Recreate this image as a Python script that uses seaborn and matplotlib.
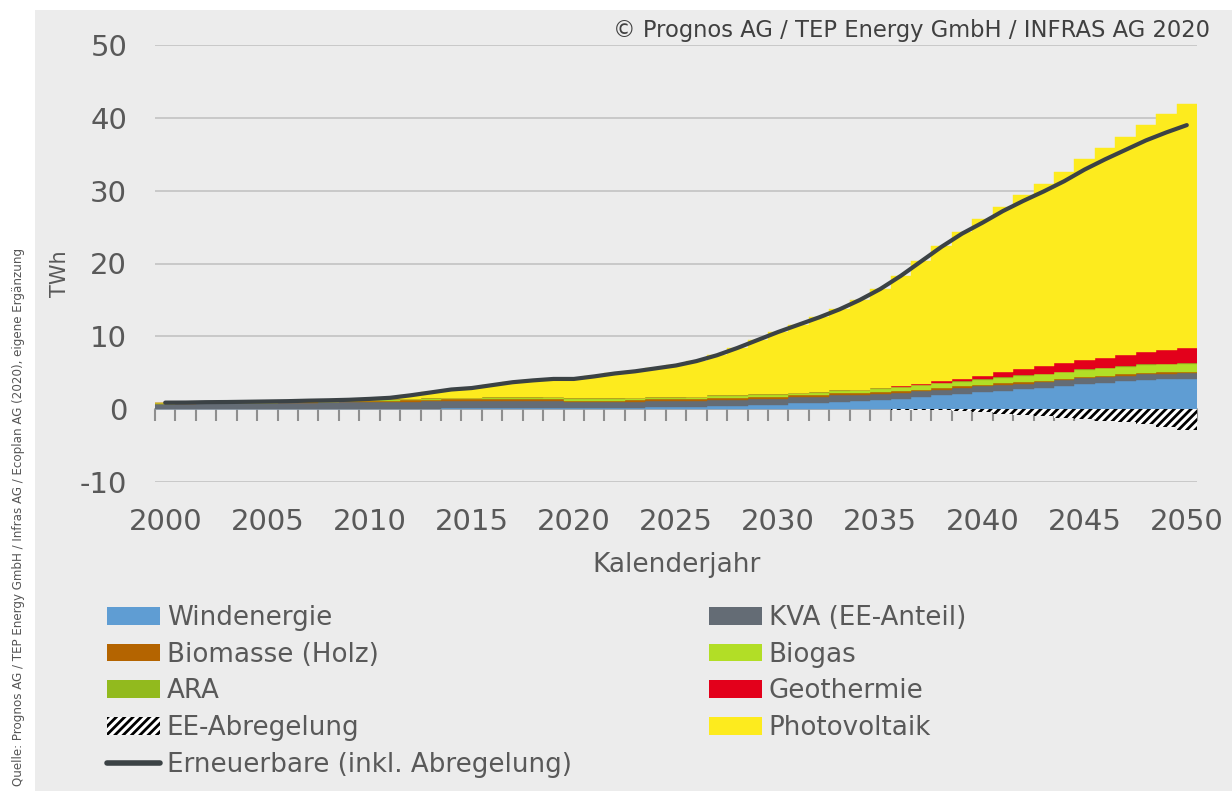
import numpy as np
import pandas as pd
import matplotlib
matplotlib.use("Agg")
import matplotlib.pyplot as plt
from matplotlib.patches import Rectangle, Patch
from matplotlib.lines import Line2D
import seaborn as sns

# ---- data (TWh per calendar year) ----
years = list(range(2000, 2051))

windenergie = [
    0.00, 0.00, 0.00, 0.00, 0.00, 0.01, 0.01, 0.02, 0.02, 0.02,
    0.04, 0.07, 0.09, 0.09, 0.10, 0.11, 0.11, 0.13, 0.12, 0.15,
    0.15, 0.15, 0.15, 0.20, 0.30, 0.30, 0.30, 0.45, 0.45, 0.62,
    0.62, 0.85, 0.90, 1.05, 1.10, 1.25, 1.45, 1.65, 1.90, 2.10,
    2.35, 2.55, 2.75, 2.95, 3.20, 3.50, 3.65, 3.85, 4.05, 4.12, 4.20]
kva = [
    0.75, 0.76, 0.78, 0.80, 0.82, 0.84, 0.86, 0.88, 0.90, 0.92,
    0.94, 0.95, 0.96, 0.97, 0.98, 0.98, 0.98, 0.98, 0.98, 0.98,
    0.85, 0.85, 0.85, 0.85, 0.82, 0.82, 0.82, 0.85, 0.85, 0.83,
    0.83, 0.78, 0.78, 0.85, 0.85, 0.82, 0.80, 0.80, 0.80, 0.78,
    0.78, 0.78, 0.76, 0.76, 0.75, 0.75, 0.74, 0.74, 0.72, 0.72, 0.70]
biomasse = [
    0.02, 0.02, 0.03, 0.03, 0.04, 0.05, 0.06, 0.08, 0.10, 0.12,
    0.14, 0.16, 0.18, 0.22, 0.25, 0.26, 0.27, 0.28, 0.28, 0.28,
    0.18, 0.18, 0.18, 0.20, 0.24, 0.24, 0.24, 0.24, 0.24, 0.25,
    0.25, 0.25, 0.25, 0.26, 0.26, 0.26, 0.25, 0.25, 0.25, 0.24,
    0.24, 0.23, 0.23, 0.22, 0.22, 0.22, 0.21, 0.21, 0.20, 0.20, 0.20]
biogas = [
    0.05, 0.05, 0.06, 0.06, 0.07, 0.07, 0.08, 0.09, 0.10, 0.11,
    0.12, 0.13, 0.14, 0.15, 0.16, 0.17, 0.18, 0.19, 0.20, 0.21,
    0.22, 0.22, 0.23, 0.23, 0.24, 0.24, 0.25, 0.26, 0.27, 0.28,
    0.29, 0.31, 0.33, 0.35, 0.40, 0.45, 0.50, 0.55, 0.60, 0.65,
    0.70, 0.75, 0.80, 0.85, 0.90, 0.95, 1.00, 1.04, 1.08, 1.12, 1.15]
ara = [
    0.07, 0.07, 0.07, 0.07, 0.07, 0.07, 0.07, 0.07, 0.07, 0.07,
    0.08, 0.08, 0.08, 0.08, 0.08, 0.08, 0.08, 0.08, 0.08, 0.08,
    0.08, 0.08, 0.08, 0.08, 0.08, 0.08, 0.08, 0.08, 0.08, 0.08,
    0.09, 0.09, 0.09, 0.09, 0.09, 0.09, 0.09, 0.09, 0.09, 0.09,
    0.09, 0.09, 0.09, 0.09, 0.09, 0.09, 0.09, 0.09, 0.09, 0.09, 0.09]
geothermie = [
    0.00, 0.00, 0.00, 0.00, 0.00, 0.00, 0.00, 0.00, 0.00, 0.00,
    0.00, 0.00, 0.00, 0.00, 0.00, 0.00, 0.00, 0.00, 0.00, 0.00,
    0.00, 0.00, 0.00, 0.00, 0.00, 0.00, 0.00, 0.00, 0.00, 0.00,
    0.00, 0.00, 0.00, 0.00, 0.00, 0.00, 0.03, 0.08, 0.20, 0.30,
    0.45, 0.70, 0.85, 1.00, 1.15, 1.30, 1.40, 1.55, 1.70, 1.85, 2.00]
photovoltaik = [
    0.01, 0.01, 0.02, 0.02, 0.02, 0.02, 0.02, 0.03, 0.03, 0.05,
    0.09, 0.17, 0.45, 0.79, 1.13, 1.30, 1.68, 2.04, 2.29, 2.45,
    2.67, 3.02, 3.41, 3.64, 3.92, 4.32, 4.91, 5.52, 6.51, 7.44,
    8.52, 9.32, 10.25, 11.10, 12.30, 13.63, 15.23, 16.98, 18.61, 20.19,
    21.44, 22.70, 23.92, 25.03, 26.19, 27.49, 28.81, 29.92, 31.16, 32.40, 33.56]
ee_abregelung = [
    0.00, 0.00, 0.00, 0.00, 0.00, 0.00, 0.00, 0.00, 0.00, 0.00,
    0.00, 0.00, 0.00, 0.00, 0.00, 0.00, 0.00, 0.00, 0.00, 0.00,
    0.00, 0.00, 0.00, 0.00, 0.00, 0.00, 0.00, 0.00, 0.00, 0.00,
    0.00, 0.00, 0.00, 0.00, 0.00, 0.00, -0.05, -0.10, -0.15, -0.25,
    -0.45, -0.60, -0.80, -1.00, -1.20, -1.40, -1.60, -1.80, -2.10, -2.50, -2.90]
erneuerbare = [
    0.90, 0.91, 0.96, 0.98, 1.02, 1.06, 1.10, 1.17, 1.22, 1.29,
    1.41, 1.56, 1.90, 2.30, 2.70, 2.90, 3.30, 3.70, 3.95, 4.15,
    4.15, 4.50, 4.90, 5.20, 5.60, 6.00, 6.60, 7.40, 8.40, 9.50,
    10.60, 11.60, 12.60, 13.70, 15.00, 16.50, 18.30, 20.30, 22.30, 24.10,
    25.60, 27.20, 28.60, 29.90, 31.30, 32.90, 34.30, 35.60, 36.90, 38.00, 39.00]

x_ticks = [2000, 2005, 2010, 2015, 2020, 2025, 2030, 2035, 2040, 2045, 2050]
y_ticks = [-10, 0, 10, 20, 30, 40, 50]

df = pd.DataFrame({
    "Jahr": years,
    "Windenergie": windenergie,
    "KVA (EE-Anteil)": kva,
    "Biomasse (Holz)": biomasse,
    "Biogas": biogas,
    "ARA": ara,
    "Geothermie": geothermie,
    "Photovoltaik": photovoltaik,
    "EE-Abregelung": ee_abregelung,
    "Erneuerbare (inkl. Abregelung)": erneuerbare,
})

colors = {
    "Windenergie": "#5F9DD3",
    "KVA (EE-Anteil)": "#646C75",
    "Biomasse (Holz)": "#B46400",
    "Biogas": "#B2DE26",
    "ARA": "#92BA1E",
    "Geothermie": "#E3001B",
    "Photovoltaik": "#FDEB1E",
}
stack_order = ["Windenergie", "KVA (EE-Anteil)", "Biomasse (Holz)", "Biogas",
               "ARA", "Geothermie", "Photovoltaik"]
line_color = "#3B4245"
text_color = "#595959"
bg_color = "#ECECEC"
hatch_pattern = "////"

# ---- style ----
sns.set_style("white")
plt.rcParams["font.family"] = ["DejaVu Sans"]
plt.rcParams["axes.unicode_minus"] = False
plt.rcParams["hatch.linewidth"] = 2.0

W, H = 1232, 791
fig = plt.figure(figsize=(W / 100, H / 100), dpi=100, facecolor="white")
fig.patches.append(Rectangle((35 / W, 0), 1 - 35 / W, 1 - 10 / H,
                             transform=fig.transFigure, facecolor=bg_color,
                             edgecolor="none", zorder=-10))

ax = fig.add_axes([155 / W, 1 - 482 / H, 1042 / W, 437 / H])
ax.patch.set_visible(False)

# stacked yearly columns
bottom = np.zeros(len(df))
for name in stack_order:
    vals = df[name].to_numpy()
    ax.bar(df["Jahr"], vals, bottom=bottom, width=1.0, color=colors[name],
           edgecolor=colors[name], linewidth=0.3, zorder=3)
    bottom += vals

# curtailment below zero
ax.bar(df["Jahr"], df["EE-Abregelung"], width=1.0, facecolor="white",
       edgecolor="black", hatch=hatch_pattern, linewidth=0, zorder=3)

# renewables total line
sns.lineplot(data=df, x="Jahr", y="Erneuerbare (inkl. Abregelung)", ax=ax,
             color=line_color, linewidth=3.0, legend=False, zorder=5)

# ---- axes ----
ax.set_xlim(1999.5, 2050.5)
ax.set_ylim(-10, 50)
ax.set_yticks(y_ticks)
for yv in y_ticks:
    if yv != 0:
        ax.axhline(yv, color="#C6C6C6", linewidth=1.3, zorder=1)

for s in ["top", "right", "left"]:
    ax.spines[s].set_visible(False)
ax.spines["bottom"].set_position(("data", 0))
ax.spines["bottom"].set_color("#A0A0A0")
ax.spines["bottom"].set_linewidth(1.2)
ax.spines["bottom"].set_zorder(2)

ax.set_xticks(x_ticks)
ax.set_xticklabels([str(v) for v in x_ticks])
ax.set_xticks(np.arange(1999.5, 2051.0, 1.0), minor=True)
ax.tick_params(axis="x", which="major", bottom=True, length=0, pad=71,
               labelsize=21, labelcolor=text_color)
ax.tick_params(axis="x", which="minor", bottom=True, length=8.5, width=1.5,
               color="#8F8F8F", direction="out")
ax.tick_params(axis="y", left=False, length=0, pad=20, labelsize=21,
               labelcolor=text_color)
ax.set_xlabel("")
ax.set_ylabel("")

# ---- texts ----
fig.text(60 / W, 1 - 274 / H, "TWh", rotation=90, ha="center", va="center",
         fontsize=15, color=text_color)
fig.text(677 / W, 1 - 565 / H, "Kalenderjahr", ha="center", va="center",
         fontsize=19, color=text_color)
fig.text(1210 / W, 1 - 30 / H, "© Prognos AG / TEP Energy GmbH / INFRAS AG 2020",
         ha="right", va="center", fontsize=16.3, color="#404040")
fig.text(19 / W, 1 - 786 / H,
         "Quelle: Prognos AG / TEP Energy GmbH / Infras AG / Ecoplan AG (2020), eigene Ergänzung",
         rotation=90, ha="center", va="bottom", fontsize=8.6, color="#555555")

# ---- legend (two columns) ----
def patch(name):
    return Patch(facecolor=colors[name], edgecolor="none")

hatch_handle = Patch(facecolor="white", edgecolor="black", hatch=hatch_pattern,
                     linewidth=0)
line_handle = Line2D([0], [0], color=line_color, linewidth=4)

left_items = [(patch("Windenergie"), "Windenergie"),
              (patch("Biomasse (Holz)"), "Biomasse (Holz)"),
              (patch("ARA"), "ARA"),
              (hatch_handle, "EE-Abregelung"),
              (line_handle, "Erneuerbare (inkl. Abregelung)")]
right_items = [(patch("KVA (EE-Anteil)"), "KVA (EE-Anteil)"),
               (patch("Biogas"), "Biogas"),
               (patch("Geothermie"), "Geothermie"),
               (patch("Photovoltaik"), "Photovoltaik")]

legend_kw = dict(frameon=False, fontsize=18.8, handlelength=2.03,
                 handleheight=0.66, handletextpad=0.26, labelspacing=0.41,
                 borderpad=0, borderaxespad=0, labelcolor=text_color,
                 loc="upper left")
for items, x0 in [(left_items, 107), (right_items, 709)]:
    fig.legend([h for h, _ in items], [l for _, l in items],
               bbox_to_anchor=(x0 / W, 1 - 605 / H), **legend_kw)

fig.savefig("out.png", dpi=100, facecolor=fig.get_facecolor())
